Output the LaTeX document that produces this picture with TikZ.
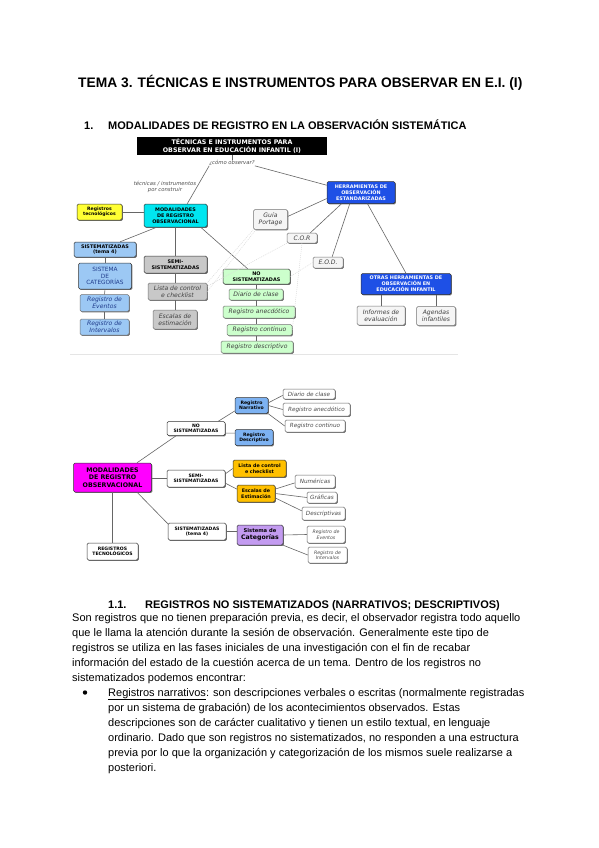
\documentclass[tikz,border=0pt]{standalone}
\usepackage{fontspec}
\setmainfont{Liberation Sans}
\newfontfamily\dvs{DejaVu Sans}
\usetikzlibrary{shadows}
\definecolor{cyanb}{HTML}{00E6F0}
\definecolor{yelb}{HTML}{FFFF33}
\definecolor{blueH}{HTML}{1E50E6}
\definecolor{lblue}{HTML}{9CC8F4}
\definecolor{lgreen}{HTML}{CCFFCC}
\definecolor{greyb}{HTML}{C8C8C8}
\definecolor{magb}{HTML}{FF00FF}
\definecolor{goldb}{HTML}{FFC000}
\definecolor{purpb}{HTML}{C39BF0}
\definecolor{mblue}{HTML}{7DB2F2}
\definecolor{navyt}{HTML}{203C8C}
\tikzset{
  sz/.style 2 args={minimum width=#1pt, minimum height=#2pt},
  ln/.style={draw=black!60, line width=0.6pt},
  dl/.style={draw=black!14, line width=0.5pt, dash pattern=on 1pt off 1pt},
  shd/.style={drop shadow={shadow xshift=0.9pt, shadow yshift=-0.9pt, opacity=0.55, fill=black}},
  bb/.style={draw=black!80, line width=0.5pt, rounded corners=1.5pt, inner sep=0pt, align=center,
    font=\dvs\bfseries\fontsize{4.9}{5.8}\selectfont, shd},
  ib/.style={bb, font=\dvs\itshape\fontsize{6.1}{7}\selectfont, text=black!75, draw=black!55},
  bb2/.style={bb, font=\dvs\bfseries\fontsize{4.6}{5.4}\selectfont},
  wb/.style={bb2, fill=white},
  ib2/.style={bb, fill=white, draw=black!60, font=\dvs\itshape\fontsize{5.7}{6.5}\selectfont, text=black!70},
  lab/.style={inner sep=0pt, align=center, font=\dvs\itshape\fontsize{5.3}{6.1}\selectfont, text=black!70},
  body/.style={anchor=base west, inner sep=0pt, font=\fontsize{11}{13}\selectfont},
  head/.style={anchor=base west, inner sep=0pt, font=\bfseries\fontsize{11}{13}\selectfont},
}
\begin{document}
\begin{tikzpicture}[x=1pt,y=-1pt]
\useasboundingbox[fill=white] (0,0) rectangle (599,848);

% ---------- headings ----------
\node[anchor=base west, inner sep=0pt, font=\bfseries\fontsize{13.8}{16}\selectfont] (title) at (78,88)
  {TEMA 3. TÉCNICAS E INSTRUMENTOS PARA OBSERVAR EN E.I. (I)};
\node[head] (h1n) at (84,130) {1.};
\node[head] (h1) at (108,130) {MODALIDADES DE REGISTRO EN LA OBSERVACIÓN SISTEMÁTICA};

% ---------- diagram 1 ----------
\node[fill=black, text=white, inner sep=0pt, sz={190}{18}, align=center,
  font=\dvs\bfseries\fontsize{6.3}{7.3}\selectfont] (t1) at (232,146)
  {TÉCNICAS E INSTRUMENTOS PARA\\OBSERVAR EN EDUCACIÓN INFANTIL (I)};
\node[lab] (q1) at (232,163) {¿cómo observar?};
\node[lab] (tq1) at (165,187) {técnicas / instrumentos\\por construir};

\node[bb, fill=cyanb, sz={63}{23}] (mod1) at (175.5,215.5) {MODALIDADES\\DE REGISTRO\\OBSERVACIONAL};
\node[bb, fill=yelb, sz={45}{16}, font=\dvs\bfseries\fontsize{4.6}{5.4}\selectfont] (tec1) at (99.5,212) {Registros\\tecnológicos};
\node[bb, fill=blueH, text=white, sz={68}{22}] (her1) at (361,192.5) {HERRAMIENTAS DE\\OBSERVACIÓN\\ESTANDARIZADAS};
\node[ib, fill=black!4, sz={34}{20}] (gp1) at (270.5,219.5) {Guía\\Portage};
\node[ib, fill=black!4, sz={30}{10}] (cor1) at (302,238) {C.O.R};
\node[ib, fill=black!4, sz={30}{11}] (eod1) at (328,262.5) {E.O.D.};
\node[bb, fill=blueH, text=white, sz={90}{21}] (otr1) at (406,284) {OTRAS HERRAMIENTAS DE\\OBSERVACIÓN EN\\EDUCACIÓN INFANTIL};
\node[ib, fill=black!4, sz={48}{19}] (inf1) at (381,315.5) {Informes de\\evaluación};
\node[ib, fill=black!4, sz={39}{19}] (age1) at (436,316) {Agendas\\infantiles};

\node[bb, fill=lblue, sz={62}{15}] (sis1) at (105,249.5) {SISTEMATIZADAS\\(tema 4)};
\node[bb, fill=lblue, sz={53}{26}, text=navyt, font=\dvs\fontsize{5.8}{6.6}\selectfont] (cat1) at (105,276) {SISTEMA\\DE\\CATEGORÍAS};
\node[ib, fill=lblue, text=navyt, sz={49}{17}] (eve1) at (104.5,303) {Registro de\\Eventos};
\node[ib, fill=lblue, text=navyt, sz={49}{16}] (int1) at (104.5,327) {Registro de\\Intervalos};

\node[bb, fill=greyb, sz={63}{17}] (sem1) at (175.5,264.5) {SEMI-\\SISTEMATIZADAS};
\node[ib, fill=greyb, sz={59}{17}] (lis1) at (177.5,291.5) {Lista de control\\e checklist};
\node[ib, fill=greyb, sz={44}{19}] (esc1) at (175,319.5) {Escalas de\\estimación};

\node[bb, fill=lgreen, sz={67}{15}] (no1) at (256.5,276.5) {NO\\SISTEMATIZADAS};
\node[ib, fill=lgreen, sz={54}{11}] (dia1) at (256,294.5) {Diario de clase};
\node[ib, fill=lgreen, sz={72}{12}] (ane1) at (259,312) {Registro anecdótico};
\node[ib, fill=lgreen, sz={65}{11}] (con1) at (259.5,330) {Registro continuo};
\node[ib, fill=lgreen, sz={72}{12}] (des1) at (257,347) {Registro descriptivo};

% connectors diagram 1
\draw[ln] (t1.south) -- (q1.north);
\draw[ln] (q1.south east) -- (her1.168);
\draw[ln] (q1.south west) -- (mod1.45);
\draw[ln] (tec1.east) -- (mod1.west |- tec1.east);
\draw[ln] (mod1.212) -- (sis1.27);
\draw[ln] (mod1.south) -- (sem1.north);
\draw[ln] (mod1.335) -- (no1.139);
\draw[ln] (sis1.south) -- (cat1.north);
\draw[ln] (cat1.south) -- (eve1.north);
\draw[ln] (eve1.south) -- (int1.north);
\draw[ln] (sem1.south) -- (lis1.north -| sem1.south);
\draw[ln] (lis1.south -| esc1.north) -- (esc1.north);
\draw[ln] (no1.south) -- (dia1.north -| no1.south);
\draw[ln] (dia1.south) -- (ane1.north -| dia1.south);
\draw[ln] (ane1.south -| dia1.south) -- (con1.north -| dia1.south);
\draw[ln] (con1.south -| dia1.south) -- (des1.north -| dia1.south);
\draw[ln] (her1.190) -- (gp1.10);
\draw[ln] (her1.210) -- (cor1.32);
\draw[ln] (her1.225) -- (eod1.54);
\draw[ln] (her1.300) -- (otr1.north);
\draw[ln] (inf1.north |- otr1.south) -- (inf1.north);
\draw[ln] (age1.north |- otr1.south) -- (age1.north);
\draw[dl] (gp1.south west) -- (lis1.north east);
\draw[dl] (gp1.215) -- (lis1.east);
\draw[dl] (cor1.south west) -- (lis1.10);
\draw[dl] (cor1.south) -- (con1.east);
\draw[dl] (eod1.west) -- (no1.east);
\coordinate (b1) at (70,354);
\coordinate (b2) at (458,354);
\draw[draw=black!10, line width=0.6pt] (b1) -- (b2);

% ---------- diagram 2 ----------
\node[bb2, fill=magb, sz={78}{29}, font=\dvs\bfseries\fontsize{6.3}{7.5}\selectfont] (mod2) at (112.5,477.5) {MODALIDADES\\DE REGISTRO\\OBSERVACIONAL};
\node[wb, sz={58}{14}] (no2) at (196,428.5) {NO\\SISTEMATIZADAS};
\node[bb2, fill=mblue, sz={33}{16}] (nar2) at (251.5,405.5) {Registro\\Narrativo};
\node[bb2, fill=mblue, sz={38}{16}] (des2) at (254,437.5) {Registro\\Descriptivo};
\node[ib2, sz={52}{10}] (dia2) at (309,394) {Diario de clase};
\node[ib2, sz={67}{13}] (ane2) at (316.5,409.5) {Registro anecdótico};
\node[ib2, sz={60}{12}] (con2) at (315,426) {Registro continuo};
\node[wb, sz={58}{17}] (sem2) at (196,478.5) {SEMI-\\SISTEMATIZADAS};
\node[bb2, fill=goldb, sz={53}{17}, font=\dvs\bfseries\fontsize{4.8}{5.8}\selectfont] (lis2) at (259.5,468.5) {Lista de control\\e checklist};
\node[bb2, fill=goldb, sz={38}{17}, font=\dvs\bfseries\fontsize{4.8}{5.8}\selectfont] (esc2) at (256,493.5) {Escalas de\\Estimación};
\node[ib2, sz={40}{13}] (num2) at (315,481.5) {Numéricas};
\node[ib2, sz={30}{11}] (gra2) at (322,497.5) {Gráficas};
\node[ib2, sz={43}{13}] (dsc2) at (323.5,513.5) {Descriptivas};
\node[wb, sz={58}{17}] (sis2) at (197,531.5) {SISTEMATIZADAS\\(tema 4)};
\node[bb2, fill=purpb, sz={46}{20}, font=\dvs\bfseries\fontsize{5.2}{6.8}\selectfont] (cat2) at (260,535) {Sistema de\\{\fontsize{6.2}{6.8}\selectfont Categorías}};
\node[ib2, sz={38}{17}, font=\dvs\itshape\fontsize{4.7}{5.5}\selectfont] (eve2) at (326,534.5) {Registro de\\Eventos};
\node[ib2, sz={39}{16}, font=\dvs\itshape\fontsize{4.7}{5.5}\selectfont] (int2) at (327.5,555) {Registro de\\Intervalos};
\node[wb, sz={51}{17}] (tec2) at (112.5,551.5) {REGISTROS\\TECNOLÓGICOS};

\draw[ln] (mod2.31) -- (no2.200);
\draw[ln] (sem2.west -| mod2.east) -- (sem2.west);
\draw[ln] (mod2.329) -- (sis2.165);
\draw[ln] (mod2.south) -- (tec2.north);
\draw[ln] (no2.18) -- (nar2.198);
\draw[ln] (no2.351) -- (des2.167);
\draw[ln] (nar2.9) -- (dia2.183);
\draw[ln] (nar2.east) -- (ane2.west);
\draw[ln] (nar2.south east) -- (con2.west);
\draw[ln] (sem2.9) -- (lis2.west);
\draw[ln] (sem2.351) -- (esc2.167);
\draw[ln] (esc2.13) -- (num2.184);
\draw[ln] (esc2.east) -- (gra2.west);
\draw[ln] (esc2.347) -- (dsc2.173);
\draw[ln] (sis2.east) -- (cat2.west |- sis2.east);
\draw[ln] (cat2.east) -- (eve2.west);
\draw[ln] (cat2.south east) -- (int2.west);

% ---------- text ----------
\node[head] (h2n) at (108,608) {1.1.};
\node[head] (h2) at (145,608) {REGISTROS NO SISTEMATIZADOS (NARRATIVOS; DESCRIPTIVOS)};
\node[body] (l1) at (72,621) {Son registros que no tienen preparación previa, es decir, el observador registra todo aquello};
\node[body] (l2) at (72,636) {que le llama la atención durante la sesión de observación. Generalmente este tipo de};
\node[body] (l3) at (72,651) {registros se utiliza en las fases iniciales de una investigación con el fin de recabar};
\node[body] (l4) at (72,666) {información del estado de la cuestión acerca de un tema. Dentro de los registros no};
\node[body] (l5) at (72,681) {sistematizados podemos encontrar:};
\node[circle, fill=black, inner sep=0pt, minimum size=4.4pt] (bul) at (85,692.5) {};
\node[body] (m1) at (108,696) {\underline{Registros narrativos}: son descripciones verbales o escritas (normalmente registradas};
\node[body] (m2) at (108,711) {por un sistema de grabación) de los acontecimientos observados. Estas};
\node[body] (m3) at (108,726) {descripciones son de carácter cualitativo y tienen un estilo textual, en lenguaje};
\node[body] (m4) at (108,741) {ordinario. Dado que son registros no sistematizados, no responden a una estructura};
\node[body] (m5) at (108,756) {previa por lo que la organización y categorización de los mismos suele realizarse a};
\node[body] (m6) at (108,771) {posteriori.};
\end{tikzpicture}
\end{document}
